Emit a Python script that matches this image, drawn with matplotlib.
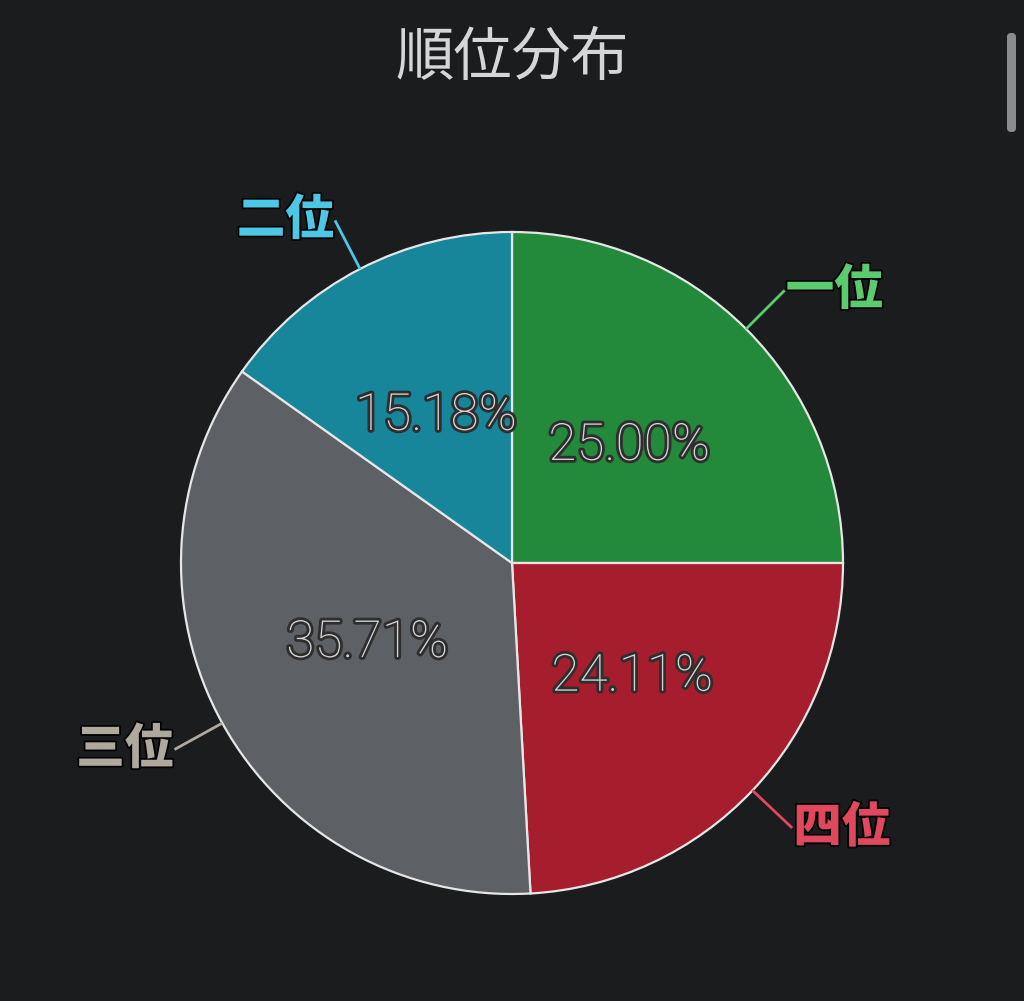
import numpy as np
import matplotlib.pyplot as plt
import matplotlib.patheffects as pe
from matplotlib.patches import FancyBboxPatch

# data
labels = ['一位', '四位', '三位', '二位']
values = [25.00, 24.11, 35.71, 15.18]
slice_colors = ['#228a3a', '#a61d2d', '#5d6065', '#17869a']
label_colors = ['#5ccb6e', '#e0485e', '#aea89d', '#4cc8e6']
title = '順位分布'

W, H = 1024, 1001
bg = '#1b1c1e'

plt.rcParams['font.family'] = ['Noto Sans CJK JP', 'DejaVu Sans']

fig = plt.figure(figsize=(W / 100, H / 100), dpi=100, facecolor=bg)
ax = fig.add_axes([0, 0, 1, 1])
ax.set_facecolor(bg)

cx, cy, R = 512, H - 563, 331
wedges, _, autotexts = ax.pie(values, colors=slice_colors, startangle=90, counterclock=False,
                              center=(cx, cy), radius=R, autopct='%1.2f%%', pctdistance=0.5,
                              wedgeprops=dict(edgecolor='#e6e6e6', linewidth=1.6),
                              textprops=dict(fontsize=37, color='#d4d4d4', family='Roboto',
                                             fontweight='light'))
# pie resets the limits, so set them afterwards
ax.set_xlim(0, W)
ax.set_ylim(0, H)
ax.set_aspect('equal')
ax.axis('off')

for t in autotexts:
    t.set_path_effects([pe.withStroke(linewidth=4, foreground='#2e2e2e')])

# outer labels with leader lines
for w, lab, col in zip(wedges, labels, label_colors):
    ang = np.deg2rad((w.theta1 + w.theta2) / 2)
    x0, y0 = cx + R * np.cos(ang), cy + R * np.sin(ang)
    x1, y1 = cx + 1.165 * R * np.cos(ang), cy + 1.165 * R * np.sin(ang)
    ax.plot([x0, x1], [y0, y1], color=col, lw=2, solid_capstyle='butt')
    ha = 'left' if np.cos(ang) > 0 else 'right'
    ax.text(x1 + (1 if ha == 'left' else -1), y1, lab, color=col, fontsize=35,
            fontweight='heavy', ha=ha, va='center',
            path_effects=[pe.withStroke(linewidth=2.5, foreground='#000000')])

fig.text(0.5, 1 - 58 / H, title, color='#d6d6d6', fontsize=42, ha='center', va='center')

# scrollbar
fig.patches.append(FancyBboxPatch((1007 / W, 1 - 132 / H), 9 / W, 99 / H,
                                  boxstyle='round,pad=0,rounding_size=0.004',
                                  transform=fig.transFigure, facecolor='#8c8c8c',
                                  edgecolor='none'))

fig.savefig('out.png', dpi=100, facecolor=bg)
